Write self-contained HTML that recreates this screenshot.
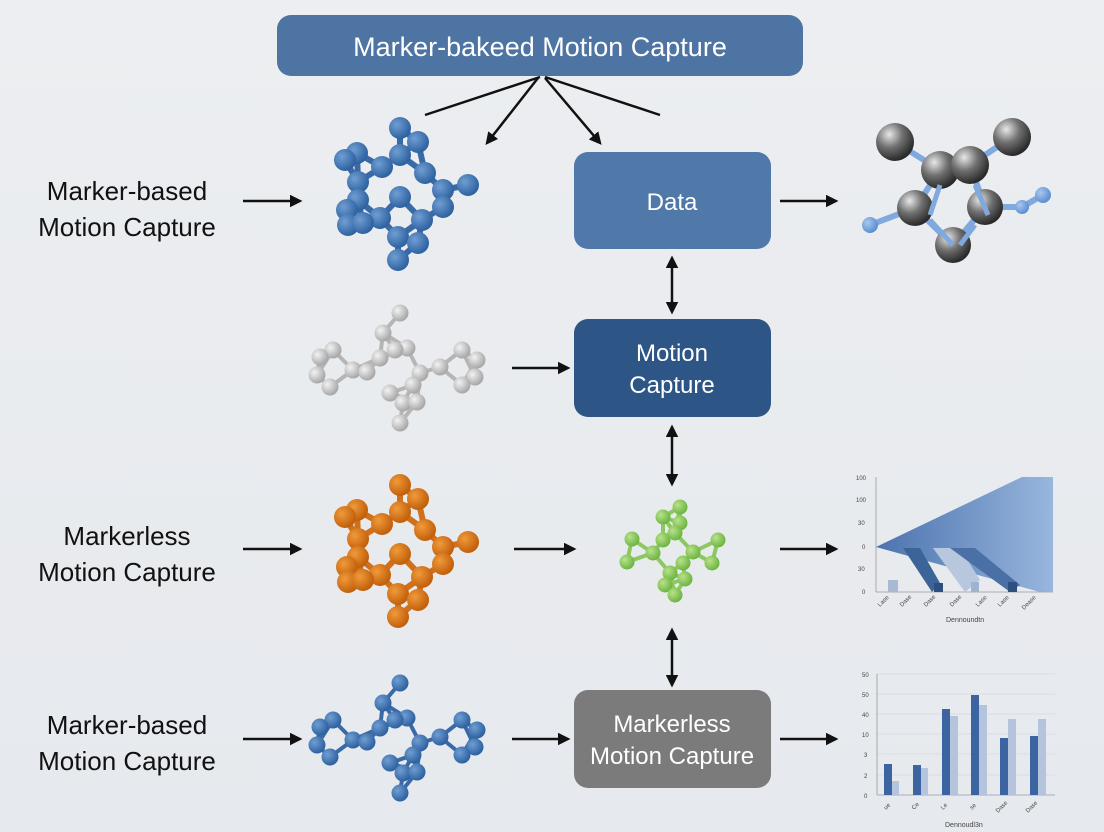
<!DOCTYPE html>
<html><head><meta charset="utf-8"><style>
html,body{margin:0;padding:0;}
body{width:1104px;height:832px;overflow:hidden;background:linear-gradient(180deg,#eceef1 0%,#e6e9ed 100%);font-family:"Liberation Sans",sans-serif;}
svg{position:absolute;left:0;top:0;}
</style></head><body>
<svg id="s" width="1104" height="832" viewBox="0 0 1104 832" xmlns="http://www.w3.org/2000/svg">
<defs>
<marker id="ah" viewBox="0 0 10 10" refX="8" refY="5" markerWidth="5" markerHeight="5" orient="auto-start-reverse"><path d="M0,0 L10,5 L0,10 z" fill="#111"/></marker>
<radialGradient id="gb" cx="35%" cy="35%" r="65%"><stop offset="0" stop-color="#6f9ed3"/><stop offset="1" stop-color="#2f62a0"/></radialGradient>
<radialGradient id="go" cx="35%" cy="35%" r="65%"><stop offset="0" stop-color="#f09a3a"/><stop offset="1" stop-color="#c2600c"/></radialGradient>
<radialGradient id="gg" cx="35%" cy="35%" r="65%"><stop offset="0" stop-color="#f2f2f2"/><stop offset="1" stop-color="#a8a8a8"/></radialGradient>
<radialGradient id="ggr" cx="35%" cy="35%" r="65%"><stop offset="0" stop-color="#b8e28a"/><stop offset="1" stop-color="#6eb543"/></radialGradient>
<radialGradient id="gm" cx="35%" cy="30%" r="70%"><stop offset="0" stop-color="#e8e8e8"/><stop offset="0.5" stop-color="#707070"/><stop offset="1" stop-color="#2a2a2a"/></radialGradient>
<radialGradient id="glb" cx="35%" cy="35%" r="65%"><stop offset="0" stop-color="#a9c8ef"/><stop offset="1" stop-color="#5d8fd0"/></radialGradient>
<linearGradient id="wedge" x1="0" y1="0" x2="1" y2="0"><stop offset="0" stop-color="#3a66a6"/><stop offset="1" stop-color="#8fb0dc"/></linearGradient>
</defs>

<rect x="277" y="15" width="526" height="61" rx="14" fill="#4d74a3"/>
<text x="540" y="56" font-size="27" fill="#fff" text-anchor="middle">Marker-bakeed Motion Capture</text>
<g stroke="#111" stroke-width="2.5" fill="none">
<line x1="540" y1="77" x2="425" y2="115"/>
<line x1="545" y1="77" x2="660" y2="115"/>
<line x1="538" y1="78" x2="487" y2="143" marker-end="url(#ah)"/>
<line x1="545" y1="78" x2="600" y2="143" marker-end="url(#ah)"/>
</g>

<rect x="574" y="152" width="197" height="97" rx="14" fill="#5079a9"/>
<text x="672" y="210" font-size="24" fill="#fff" text-anchor="middle">Data</text>
<rect x="574" y="319" width="197" height="98" rx="14" fill="#2d5585"/>
<text x="672" y="361" font-size="24" fill="#fff" text-anchor="middle">Motion</text>
<text x="672" y="393" font-size="24" fill="#fff" text-anchor="middle">Capture</text>
<rect x="574" y="690" width="197" height="98" rx="14" fill="#7b7b7b"/>
<text x="672" y="732" font-size="24" fill="#fff" text-anchor="middle">Markerless</text>
<text x="672" y="764" font-size="24" fill="#fff" text-anchor="middle">Motion Capture</text>

<g font-size="26" fill="#111" text-anchor="middle">
<text x="127" y="200">Marker-based</text><text x="127" y="236">Motion Capture</text>
<text x="127" y="545">Markerless</text><text x="127" y="581">Motion Capture</text>
<text x="127" y="734">Marker-based</text><text x="127" y="770">Motion Capture</text>
</g>

<g stroke="#111" stroke-width="2.5" fill="none" marker-end="url(#ah)">
<line x1="243" y1="201" x2="300" y2="201"/>
<line x1="243" y1="549" x2="300" y2="549"/>
<line x1="243" y1="739" x2="300" y2="739"/>
<line x1="512" y1="368" x2="568" y2="368"/>
<line x1="514" y1="549" x2="574" y2="549"/>
<line x1="512" y1="739" x2="568" y2="739"/>
<line x1="780" y1="201" x2="836" y2="201"/>
<line x1="780" y1="549" x2="836" y2="549"/>
<line x1="780" y1="739" x2="836" y2="739"/>
<line x1="672" y1="258" x2="672" y2="312" marker-start="url(#ah)"/>
<line x1="672" y1="427" x2="672" y2="484" marker-start="url(#ah)"/>
<line x1="672" y1="630" x2="672" y2="685" marker-start="url(#ah)"/>
</g>

<g id="mols"></g>

<g font-size="6" fill="#444">
<line x1="876" y1="477" x2="876" y2="592" stroke="#999" stroke-width="0.8"/>
<line x1="876" y1="592" x2="1053" y2="592" stroke="#999" stroke-width="0.8"/>
<text x="856" y="480">100</text><text x="856" y="502">100</text><text x="858" y="525">30</text><text x="862" y="549">0</text><text x="858" y="571">30</text><text x="862" y="594">0</text>
<polygon points="876,547 1022,477 1053,477 1053,592 1040,592 876,547" fill="url(#wedge)" opacity="0.9"/>
<polygon points="903,548 920,548 940,583 932,592" fill="#3d6499"/>
<polygon points="933,548 960,548 980,580 965,592" fill="#b7c7de"/>
<polygon points="950,548 975,548 1020,585 1010,592" fill="#4a70a6"/>
<rect x="888" y="580" width="10" height="12" fill="#a9b9d3"/>
<rect x="934" y="583" width="9" height="9" fill="#2f4f80"/>
<rect x="971" y="582" width="8" height="10" fill="#9fb2d0"/>
<rect x="1008" y="582" width="9" height="10" fill="#2f4f80"/>
<text x="946" y="622" font-size="7">Dennoundtn</text>
<text x="880" y="607" transform="rotate(-45 880 607)">Lase</text>
<text x="902" y="607" transform="rotate(-45 902 607)">Dase</text>
<text x="926" y="607" transform="rotate(-45 926 607)">Dase</text>
<text x="952" y="607" transform="rotate(-45 952 607)">Dase</text>
<text x="978" y="607" transform="rotate(-45 978 607)">Lase</text>
<text x="1000" y="607" transform="rotate(-45 1000 607)">Lase</text>
<text x="1024" y="610" transform="rotate(-45 1024 610)">Dease</text>
</g>

<g font-size="6" fill="#444">
<g stroke="#d6d9de" stroke-width="0.7">
<line x1="877" y1="674" x2="1055" y2="674"/><line x1="877" y1="694" x2="1055" y2="694"/><line x1="877" y1="714" x2="1055" y2="714"/><line x1="877" y1="734" x2="1055" y2="734"/><line x1="877" y1="754" x2="1055" y2="754"/><line x1="877" y1="775" x2="1055" y2="775"/>
</g>
<line x1="877" y1="674" x2="877" y2="795" stroke="#999" stroke-width="0.8"/>
<line x1="877" y1="795" x2="1055" y2="795" stroke="#999" stroke-width="0.8"/>
<text x="862" y="677">50</text><text x="862" y="697">50</text><text x="862" y="717">40</text><text x="862" y="737">10</text><text x="864" y="757">3</text><text x="864" y="778">2</text><text x="864" y="798">0</text>
<g fill="#3b64a0">
<rect x="884" y="764" width="8" height="31"/><rect x="913" y="765" width="8" height="30"/><rect x="942" y="709" width="8" height="86"/><rect x="971" y="695" width="8" height="100"/><rect x="1000" y="738" width="8" height="57"/><rect x="1030" y="736" width="8" height="59"/>
</g>
<g fill="#b4c4dc">
<rect x="892" y="781" width="7" height="14"/><rect x="921" y="768" width="7" height="27"/><rect x="950" y="716" width="8" height="79"/><rect x="979" y="705" width="8" height="90"/><rect x="1008" y="719" width="8" height="76"/><rect x="1038" y="719" width="8" height="76"/>
</g>
<text x="945" y="827" font-size="7">Dennoudl3n</text>
<text x="886" y="810" transform="rotate(-45 886 810)">ue</text>
<text x="914" y="810" transform="rotate(-45 914 810)">Ce</text>
<text x="943" y="810" transform="rotate(-45 943 810)">Le</text>
<text x="972" y="810" transform="rotate(-45 972 810)">se</text>
<text x="998" y="813" transform="rotate(-45 998 813)">Dase</text>
<text x="1028" y="813" transform="rotate(-45 1028 813)">Dase</text>
</g>
</svg>
<script>
(function(){
var NS="http://www.w3.org/2000/svg",g=document.getElementById("mols");
function el(n,a){var e=document.createElementNS(NS,n);for(var k in a)e.setAttribute(k,a[k]);g.appendChild(e);return e;}
function mol(pts,dx,dy,r,fill,bond,th,maxd){
 for(var i=0;i<pts.length;i++)for(var j=i+1;j<pts.length;j++){
  var a=pts[i],b=pts[j],d=Math.hypot(a[0]-b[0],a[1]-b[1]);
  if(d<maxd)el("line",{x1:a[0]+dx,y1:a[1]+dy,x2:b[0]+dx,y2:b[1]+dy,stroke:bond,"stroke-width":th});
 }
 pts.forEach(function(p){el("circle",{cx:p[0]+dx,cy:p[1]+dy,r:p[2]||r,fill:fill});});
}
var A=[[400,128],[418,142],[357,153],[400,155],[382,167],[425,173],[468,185],[358,182],[400,197],[443,190],[443,207],[358,200],[347,210],[348,225],[380,218],[422,220],[398,237],[418,243],[398,260],[363,223],[345,160]];
var B=[[400,313],[383,333],[407,348],[380,358],[353,370],[333,350],[320,357],[317,375],[330,387],[367,372],[420,373],[440,367],[462,350],[477,360],[475,377],[462,385],[413,385],[390,393],[403,403],[417,402],[400,423],[395,350]];
mol(A,0,0,11,"url(#gb)","#3a6aa6",6,32);
mol(A,0,357,11,"url(#go)","#d0701a",6,32);
mol(B,0,0,8.5,"url(#gg)","#b5b5b5",4,30);
mol(B,0,370,8.5,"url(#gb)","#3a6aa6",4,30);
var G=[[680,507],[663,517],[680,523],[632,539],[663,540],[675,533],[718,540],[653,553],[693,552],[627,562],[712,563],[683,563],[670,573],[685,579],[665,585],[675,595]];
mol(G,0,0,7.5,"url(#ggr)","#8cc860",4,28);
var M=[[895,142,19],[1012,137,19],[940,170,19],[970,165,19],[915,208,18],[985,207,18],[953,245,18]];
var L=[[870,225,8],[1043,195,8],[1022,207,7]];
var bonds=[[[895,142],[940,170]],[[1012,137],[970,165]],[[940,170],[915,208]],[[970,165],[985,207]],[[915,208],[953,245]],[[985,207],[953,245]],[[915,208],[870,225]],[[985,207],[1022,207]],[[1022,207],[1043,195]]];
bonds.forEach(function(b){el("line",{x1:b[0][0],y1:b[0][1],x2:b[1][0],y2:b[1][1],stroke:"#7fa9df","stroke-width":6});});
M.forEach(function(p){el("circle",{cx:p[0],cy:p[1],r:p[2],fill:"url(#gm)"});});
[[[940,185],[930,215]],[[975,185],[988,215]],[[930,220],[953,245]],[[975,225],[960,245]]].forEach(function(b){el("line",{x1:b[0][0],y1:b[0][1],x2:b[1][0],y2:b[1][1],stroke:"#7fa9df","stroke-width":5});});
L.forEach(function(p){el("circle",{cx:p[0],cy:p[1],r:p[2],fill:"url(#glb)"});});
})();
</script>
</body></html>
